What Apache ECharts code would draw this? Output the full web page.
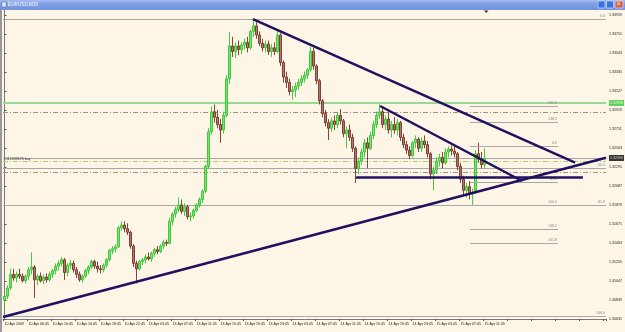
<!DOCTYPE html>
<html><head><meta charset="utf-8">
<script src="https://cdn.jsdelivr.net/npm/echarts@6/dist/echarts.min.js"></script>
<style>html,body{margin:0;padding:0;background:#fdf5e6;overflow:hidden}#c{width:625px;height:332px}</style>
</head><body><div id="c"></div>
<script>
// ---- data (EURUSD, M15) ----
const tickLabels = ['10 Apr 2009','10 Apr 06:45','10 Apr 10:45','10 Apr 14:45','10 Apr 18:45','10 Apr 22:45','13 Apr 03:45','13 Apr 07:45','13 Apr 11:45','13 Apr 15:45','13 Apr 19:45','13 Apr 23:45','14 Apr 03:45','14 Apr 07:45','14 Apr 11:45','14 Apr 15:45','14 Apr 19:45','14 Apr 23:45','15 Apr 03:45','15 Apr 07:45','15 Apr 11:45'];
const opens = [1.3084,1.3088,1.3097,1.3112,1.3108,1.3112,1.3110,1.3105,1.3110,1.3117,
1.3120,1.3106,1.3110,1.3105,1.3109,1.3106,1.3112,1.3116,1.3121,1.3124,
1.3128,1.3114,1.3122,1.3124,1.3117,1.3112,1.3106,1.3110,1.3116,1.3120,
1.3126,1.3121,1.3118,1.3117,1.3122,1.3128,1.3138,1.3140,1.3142,1.3163,
1.3166,1.3162,1.3158,1.3143,1.3124,1.3118,1.3126,1.3128,1.3131,1.3129,
1.3135,1.3139,1.3137,1.3143,1.3147,1.3146,1.3170,1.3178,1.3183,1.3188,
1.3181,1.3186,1.3175,1.3176,1.3182,1.3188,1.3194,1.3203,1.3230,1.3268,
1.3290,1.3284,1.3276,1.3270,1.3286,1.3326,1.3362,1.3356,1.3362,1.3358,
1.3363,1.3366,1.3360,1.3378,1.3384,1.3374,1.3365,1.3360,1.3364,1.3356,
1.3360,1.3356,1.3374,1.3344,1.3328,1.3322,1.3312,1.3314,1.3318,1.3322,
1.3326,1.3330,1.3336,1.3356,1.3340,1.3324,1.3302,1.3288,1.3278,1.3272,
1.3280,1.3276,1.3286,1.3280,1.3266,1.3270,1.3262,1.3250,1.3228,1.3236,
1.3246,1.3256,1.3250,1.3264,1.3276,1.3286,1.3290,1.3276,1.3282,1.3270,
1.3276,1.3270,1.3278,1.3262,1.3254,1.3248,1.3242,1.3256,1.3260,1.3250,
1.3258,1.3254,1.3244,1.3222,1.3226,1.3236,1.3240,1.3234,1.3246,1.3249,
1.3247,1.3244,1.3230,1.3216,1.3204,1.3208,1.3200,1.3202,1.3244,1.3238,
1.3232];
const closes = [1.3088,1.3097,1.3112,1.3108,1.3112,1.3110,1.3105,1.3110,1.3117,1.3120,
1.3106,1.3110,1.3105,1.3109,1.3106,1.3112,1.3116,1.3121,1.3124,1.3128,
1.3114,1.3122,1.3124,1.3117,1.3112,1.3106,1.3110,1.3116,1.3120,1.3126,
1.3121,1.3118,1.3117,1.3122,1.3128,1.3138,1.3140,1.3142,1.3163,1.3166,
1.3162,1.3158,1.3143,1.3124,1.3118,1.3126,1.3128,1.3131,1.3129,1.3135,
1.3139,1.3137,1.3143,1.3147,1.3146,1.3170,1.3178,1.3183,1.3188,1.3181,
1.3186,1.3175,1.3176,1.3182,1.3188,1.3194,1.3203,1.3230,1.3268,1.3290,
1.3284,1.3276,1.3270,1.3286,1.3326,1.3362,1.3356,1.3362,1.3358,1.3363,
1.3366,1.3360,1.3378,1.3384,1.3374,1.3365,1.3360,1.3364,1.3356,1.3360,
1.3356,1.3374,1.3344,1.3328,1.3322,1.3312,1.3314,1.3318,1.3322,1.3326,
1.3330,1.3336,1.3356,1.3340,1.3324,1.3302,1.3288,1.3278,1.3272,1.3280,
1.3276,1.3286,1.3280,1.3266,1.3270,1.3262,1.3250,1.3228,1.3236,1.3246,
1.3256,1.3250,1.3264,1.3276,1.3286,1.3290,1.3276,1.3282,1.3270,1.3276,
1.3270,1.3278,1.3262,1.3254,1.3248,1.3242,1.3256,1.3260,1.3250,1.3258,
1.3254,1.3244,1.3222,1.3226,1.3236,1.3240,1.3234,1.3246,1.3249,1.3247,
1.3244,1.3230,1.3216,1.3204,1.3208,1.3200,1.3202,1.3244,1.3238,1.3232,
1.3239];
const highs = [1.3091,1.3100,1.3118,1.3118,1.3115,1.3118,1.3113,1.3112,1.3120,1.3136,
1.3122,1.3112,1.3114,1.3112,1.3113,1.3115,1.3118,1.3124,1.3127,1.3131,
1.3130,1.3124,1.3128,1.3127,1.3120,1.3115,1.3112,1.3118,1.3122,1.3128,
1.3128,1.3126,1.3122,1.3124,1.3130,1.3140,1.3143,1.3145,1.3165,1.3170,
1.3170,1.3168,1.3160,1.3145,1.3127,1.3128,1.3130,1.3134,1.3136,1.3137,
1.3141,1.3143,1.3145,1.3150,1.3150,1.3174,1.3180,1.3186,1.3196,1.3194,
1.3190,1.3188,1.3180,1.3184,1.3190,1.3196,1.3205,1.3232,1.3272,1.3296,
1.3298,1.3292,1.3282,1.3290,1.3330,1.3377,1.3372,1.3366,1.3368,1.3366,
1.3370,1.3372,1.3380,1.3391,1.3388,1.3378,1.3370,1.3368,1.3368,1.3364,
1.3366,1.3378,1.3376,1.3346,1.3334,1.3326,1.3318,1.3322,1.3326,1.3330,
1.3334,1.3338,1.3361,1.3360,1.3342,1.3326,1.3304,1.3292,1.3282,1.3284,
1.3286,1.3290,1.3293,1.3282,1.3274,1.3276,1.3266,1.3252,1.3240,1.3250,
1.3260,1.3262,1.3268,1.3280,1.3290,1.3298,1.3294,1.3286,1.3290,1.3280,
1.3284,1.3282,1.3280,1.3266,1.3258,1.3252,1.3258,1.3264,1.3262,1.3262,
1.3264,1.3258,1.3246,1.3230,1.3240,1.3244,1.3246,1.3250,1.3252,1.3253,
1.3253,1.3246,1.3234,1.3220,1.3212,1.3214,1.3206,1.3248,1.3256,1.3246,
1.3250];
const lows = [1.3075,1.3085,1.3095,1.3105,1.3103,1.3107,1.3103,1.3102,1.3106,1.3112,
1.3086,1.3100,1.3103,1.3101,1.3103,1.3104,1.3108,1.3112,1.3116,1.3121,
1.3106,1.3110,1.3118,1.3114,1.3108,1.3104,1.3103,1.3108,1.3112,1.3118,
1.3118,1.3114,1.3113,1.3114,1.3119,1.3126,1.3134,1.3136,1.3141,1.3160,
1.3158,1.3155,1.3140,1.3120,1.3102,1.3116,1.3122,1.3124,1.3127,1.3126,
1.3131,1.3134,1.3135,1.3140,1.3143,1.3145,1.3166,1.3174,1.3180,1.3178,
1.3176,1.3172,1.3170,1.3173,1.3180,1.3185,1.3190,1.3201,1.3228,1.3265,
1.3278,1.3272,1.3256,1.3266,1.3284,1.3320,1.3350,1.3349,1.3352,1.3353,
1.3358,1.3355,1.3358,1.3372,1.3370,1.3362,1.3356,1.3355,1.3352,1.3350,
1.3352,1.3354,1.3340,1.3322,1.3316,1.3308,1.3303,1.3306,1.3314,1.3318,
1.3322,1.3326,1.3334,1.3336,1.3320,1.3298,1.3284,1.3274,1.3259,1.3268,
1.3270,1.3272,1.3276,1.3262,1.3250,1.3258,1.3246,1.3212,1.3222,1.3232,
1.3240,1.3228,1.3248,1.3260,1.3272,1.3282,1.3272,1.3270,1.3266,1.3262,
1.3266,1.3264,1.3258,1.3250,1.3244,1.3238,1.3240,1.3250,1.3246,1.3246,
1.3250,1.3240,1.3216,1.3204,1.3222,1.3230,1.3228,1.3232,1.3240,1.3242,
1.3240,1.3226,1.3212,1.3198,1.3196,1.3194,1.3188,1.3200,1.3234,1.3228,
1.3228];
const futureSlots = 40;
// horizontal levels (price)
const fiboPrices = [1.33915, 1.32284, 1.31879, 1.30664];
const fiboNames = ['0.0', '50.0', '61.8', '100.0'];
const resistancePrice = 1.32996;
const dashLevels = [1.32892, 1.32233];
const bidPrice = 1.32394;
const orderPrice = 1.32355;
const orderLabel = '#112333576 buy';
// trend lines: [x1 (bar), price1, x2 (bar), price2]
const trendLines = [
  [82.8, 1.33915, 190.2, 1.32343],
  [125.2, 1.32963, 172.5, 1.32142],
  [117.2, 1.32186, 192.8, 1.32186],
  [-0.5, 1.30653, 200.5, 1.32396]
];
// fibo expansion segment
const expStart = 155.2, expEnd = 184.5;
const expPrices = [1.32963, 1.32788, 1.32525, 1.32131, 1.31879, 1.31617, 1.31463];
const expNames = ['161.8','138.2','0.0','61.8','100.0','138.2','161.8'];
// axis
const yMin = 1.30631, yMax = 1.34014, yStep = 0.00208;

// ---- chart ----
const N = opens.length + futureSlots;
const categories = Array.from({length: N}, (_, i) => String(i));
const candles = opens.map((o, i) => [o, closes[i], lows[i], highs[i]]);
const FONT = 'Liberation Sans';
const XL = -0.5, XR = N - 0.5;
const chart = echarts.init(document.getElementById('c'), null, {renderer: 'canvas'});
const grey = '#a8a8a8';
const small = {fontSize: 3.6, fontFamily: FONT};

const hLines = [];
fiboPrices.forEach((p, k) => hLines.push({coords: [[XL, p], [XR, p]],
  lineStyle: {color: grey, width: 1, type: 'solid'},
  label: Object.assign({show: true, position: 'insideEndTop', formatter: fiboNames[k], color: '#888', distance: 1}, small)}));
hLines.push({coords: [[XL, resistancePrice], [XR, resistancePrice]],
  lineStyle: {color: '#96d896', width: 2, type: 'solid'}, label: {show: false}});
dashLevels.forEach(p => hLines.push({coords: [[XL, p], [XR, p]],
  lineStyle: {color: '#a89080', width: 1, type: [5, 2, 1, 2]}, label: {show: false}}));
hLines.push({coords: [[XL, bidPrice], [XR, bidPrice]],
  lineStyle: {color: grey, width: 1, type: 'solid'}, label: {show: false}});
hLines.push({coords: [[XL, orderPrice], [XR, orderPrice]],
  lineStyle: {color: '#a8cc78', width: 1, type: [5, 2, 1, 2]},
  label: Object.assign({show: true, position: 'insideStartTop', distance: 1, formatter: orderLabel, color: '#333'}, small)});

const axisTags = [
  {value: [XR, resistancePrice], label: {backgroundColor: '#3cc83c', color: '#fff'}},
  {value: [XR, bidPrice], label: {backgroundColor: '#000', color: '#fff'}}
];

chart.setOption({
  animation: false,
  backgroundColor: '#fdf5e6',
  grid: {left: 3, right: 19, top: 10, bottom: 13, containLabel: false},
  xAxis: [{
    type: 'category', data: categories, boundaryGap: true,
    axisLine: {lineStyle: {color: '#7a7a7a', width: 1}},
    axisTick: {show: true, interval: 7, length: 2, lineStyle: {color: '#555'}},
    axisLabel: Object.assign({interval: 7, color: '#222', margin: 3, align: 'left',
      formatter: (v) => { const k = Number(v) / 8; return tickLabels[k] || ''; }}, small),
    splitLine: {show: false}
  }, {
    type: 'value', min: XL, max: XR, show: false
  }],
  yAxis: {
    type: 'value', position: 'right', min: yMin, max: yMax, interval: yStep,
    axisLine: {show: true, lineStyle: {color: '#7a7a7a', width: 1}},
    axisTick: {show: true, length: 2, lineStyle: {color: '#555'}},
    axisLabel: Object.assign({color: '#222', margin: 3, showMaxLabel: false,
      formatter: v => v.toFixed(5)}, small),
    splitLine: {show: false}
  },
  series: [{
    type: 'lines', coordinateSystem: 'cartesian2d', xAxisIndex: 1, yAxisIndex: 0, silent: true,
    data: hLines, lineStyle: {opacity: 1}, z: 1
  }, {
    type: 'candlestick', data: candles, barWidth: 1.6, silent: true, z: 2,
    itemStyle: {color: '#7ee070', color0: '#a08070', borderColor: '#2fc62f', borderColor0: '#7e2f25', borderWidth: 0.9}
  }, {
    type: 'lines', coordinateSystem: 'cartesian2d', xAxisIndex: 1, yAxisIndex: 0, silent: true,
    data: expPrices.map((p, k) => ({coords: [[expStart, p], [expEnd, p]],
      label: Object.assign({show: true, position: 'insideEndTop', formatter: expNames[k], color: '#888', distance: 1}, small)})),
    lineStyle: {color: '#a8a8a8', width: 1, opacity: 1}, z: 3
  }, {
    type: 'lines', coordinateSystem: 'cartesian2d', xAxisIndex: 1, yAxisIndex: 0, silent: true,
    data: trendLines.map(t => ({coords: [[t[0], t[1]], [t[2], t[3]]]})),
    lineStyle: {color: '#1f1160', width: 2.5, opacity: 1}, z: 5
  }, {
    type: 'scatter', xAxisIndex: 1, yAxisIndex: 0, silent: true, clip: false, symbolSize: 0, z: 10,
    data: axisTags,
    label: Object.assign({show: true, position: 'right', distance: 3, padding: [1, 1],
      formatter: p => p.value[1].toFixed(5)}, small)
  }],
  graphic: [
    {type: 'rect', shape: {x: 0, y: 0, width: 625, height: 10}, style: {fill: new echarts.graphic.LinearGradient(0, 0, 0, 1, [{offset: 0, color: '#a4bcf0'}, {offset: 0.4, color: '#7f9ee4'}, {offset: 1, color: '#7393dc'}])}, silent: true},
    {type: 'rect', shape: {x: 2, y: 2, width: 4, height: 5}, style: {fill: '#e8eefc', stroke: '#4060b0', lineWidth: 0.5}},
    {type: 'text', left: 8, top: 2, style: {text: 'EURUSD,M15', fontSize: 4.7, fill: '#ffffff', fontFamily: FONT}},
    {type: 'rect', shape: {x: 598, y: 1, width: 7, height: 7, r: 1}, style: {fill: '#3a72e0', stroke: '#fff', lineWidth: 0.5}},
    {type: 'rect', shape: {x: 606.5, y: 1, width: 7, height: 7, r: 1}, style: {fill: '#3a72e0', stroke: '#fff', lineWidth: 0.5}},
    {type: 'rect', shape: {x: 615, y: 1, width: 8, height: 7, r: 1}, style: {fill: '#d8604a', stroke: '#fff', lineWidth: 0.5}},
    {type: 'text', left: 616.5, top: 1, style: {text: '×', fontSize: 7, fill: '#fff', fontFamily: FONT}},
    {type: 'rect', shape: {x: 0, y: 10, width: 2, height: 322}, style: {fill: '#9a9a9a'}},
    {type: 'polygon', shape: {points: [[484, 10.5], [488.5, 10.5], [486.2, 13]]}, style: {fill: '#333'}}
  ]
});
</script>
</body></html>
